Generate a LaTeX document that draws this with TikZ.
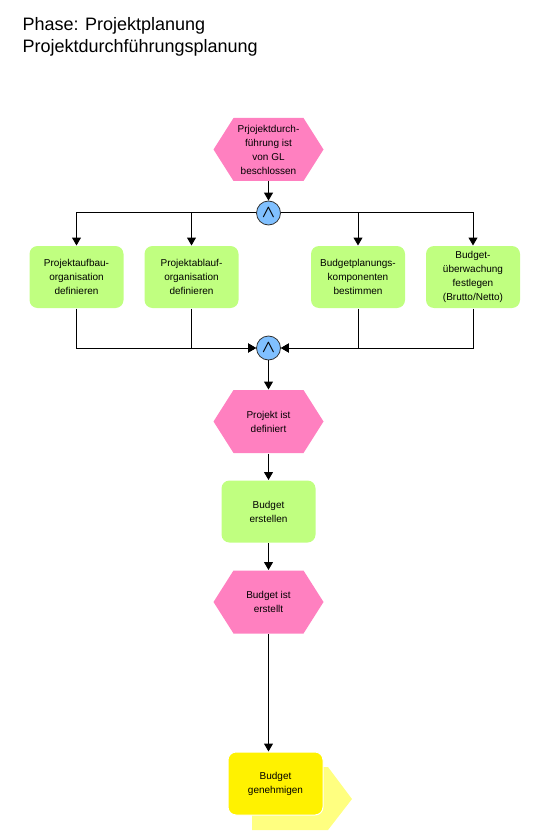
\documentclass[tikz,border=0pt]{standalone}
\usepackage{fontspec}
\setmainfont{Liberation Sans}
\usetikzlibrary{arrows.meta}
\definecolor{eventpink}{RGB}{255,128,192}
\definecolor{funcgreen}{RGB}{192,255,128}
\definecolor{connblue}{RGB}{128,192,255}
\definecolor{ifaceyellow}{RGB}{255,255,128}
\begin{document}
\begin{tikzpicture}[x=1pt, y=-1pt, >={Triangle[width=9pt,length=8pt]}, line width=1pt,
  boxtext/.style={font=\fontsize{10}{14}\selectfont, align=center, inner sep=0pt},
  event/.style={boxtext, minimum width=110pt, minimum height=63pt,
    path picture={\fill[eventpink] (path picture bounding box.west)
      -- ([xshift=20pt]path picture bounding box.north west) -- ([xshift=-20pt]path picture bounding box.north east)
      -- (path picture bounding box.east)
      -- ([xshift=-20pt]path picture bounding box.south east) -- ([xshift=20pt]path picture bounding box.south west) -- cycle;}},
  func/.style={boxtext, fill=funcgreen, rounded corners=8pt, minimum width=94pt, minimum height=62pt},
  andconn/.style={circle, fill=connblue, draw=black!80, line width=0.8pt, minimum size=24pt, inner sep=0pt,
    font=\fontsize{17}{17}\selectfont\boldmath}]
  \useasboundingbox (0,0) rectangle (540,834);
  % ---------------------------------------------------------------- title
  \node[anchor=base west, inner sep=0pt, font=\fontsize{18}{22}\selectfont] (title1) at (22,31) {Phase: Projektplanung};
  \node[anchor=base west, inner sep=0pt, font=\fontsize{18}{22}\selectfont] (title2) at (22,53) {Projektdurchführungsplanung};
  % ---------------------------------------------------------------- start event and the split
  \node[event] (ev1) at (268.5,149.5) {Prjojektdurch-\\führung ist\\von GL\\beschlossen};
  \node[andconn] (and1) at (268.5,213) {$\wedge$};
  \node[func] (fn1) at (76.5,277) {Projektaufbau-\\organisation\\definieren};
  \node[func] (fn2) at (191.5,277) {Projektablauf-\\organisation\\definieren};
  \node[func] (fn3) at (358,277) {Budgetplanungs-\\komponenten\\bestimmen};
  \node[func] (fn4) at (473,277) {Budget-\\überwachung\\festlegen\\(Brutto/Netto)};
  \draw[->] (ev1) -- (and1);
  \draw[->] (and1) -| (fn1);
  \draw[->] (and1) -| (fn2);
  \draw[->] (and1) -| (fn3);
  \draw[->] (and1) -| (fn4);
  % ---------------------------------------------------------------- the join and the main line
  \node[andconn] (and2) at (268.5,348) {$\wedge$};
  \draw[->] (fn1) |- (and2);
  \draw[->] (fn2) |- (and2);
  \draw[->] (fn3) |- (and2);
  \draw[->] (fn4) |- (and2);
  \node[event] (ev2) at (268.5,421.5) {Projekt ist\\definiert};
  \node[func] (fn5) at (268.5,511.5) {Budget\\erstellen};
  \node[event] (ev3) at (268.5,602) {Budget ist\\erstellt};
  \draw[->] (and2) -- (ev2);
  \draw[->] (ev2) -- (fn5);
  \draw[->] (fn5) -- (ev3);
  % ---------------------------------------------------------------- the last function and its interface
  \fill[ifaceyellow] (252,767) -- (328,767) -- (352,799) -- (328,830) -- (252,830) -- cycle;
  \node[func, fill=yellow, draw=white, minimum width=95pt, minimum height=63pt] (fn6) at (275.5,783.5) {Budget\\genehmigen};
  \draw[->] (ev3.south) -- (ev3.south |- fn6.north);
\end{tikzpicture}
\end{document}
